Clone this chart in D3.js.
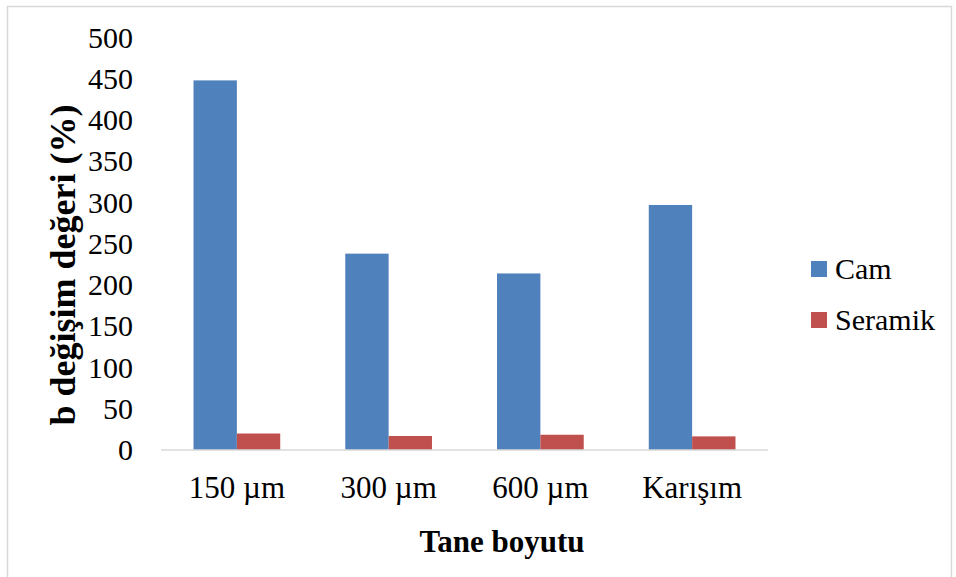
<!DOCTYPE html>
<html>
<head>
<meta charset="utf-8">
<script src="https://cdn.jsdelivr.net/npm/d3@7"></script>
<style>
  body { margin: 0; background: #fff; }
  svg { display: block; font-family: "Liberation Serif", "Times New Roman", serif; }
</style>
</head>
<body>
<svg id="chart" width="956" height="577"></svg>
<script>
// data
var categories = ["150 µm", "300 µm", "600 µm", "Karışım"];
var seriesNames = ["Cam", "Seramik"];
var camValues = [448, 238, 214, 297];
var seramikValues = [20, 17, 18.5, 16.5];
var yTicks = [0, 50, 100, 150, 200, 250, 300, 350, 400, 450, 500];
var colors = ["#4F81BD", "#C0504D"];

var svg = d3.select("#chart");
var plotLeft = 161, plotRight = 768, plotTop = 37.5, plotBottom = 450;

// outer frame
svg.append("rect").attr("x", 7.5).attr("y", 6.5).attr("width", 944).attr("height", 590)
	.attr("fill", "none").attr("stroke", "#d9d9d9").attr("stroke-width", 1.5);

var x0 = d3.scaleBand().domain(categories).range([plotLeft, plotRight])
	.paddingInner(1.5 / 3.5).paddingOuter(0.75 / 3.5);
var x1 = d3.scaleBand().domain(seriesNames).range([0, x0.bandwidth()]);
var y = d3.scaleLinear().domain([0, 500]).range([plotBottom, plotTop]);

var rows = categories.map(function(c, i){ return {cat: c, vals: [camValues[i], seramikValues[i]]}; });

// bars
var groups = svg.append("g").selectAll("g").data(rows).enter().append("g")
	.attr("transform", function(d){ return "translate(" + x0(d.cat) + ",0)"; });
groups.selectAll("rect").data(function(d){
		return d.vals.map(function(v, j){ return {s: seriesNames[j], v: v, c: colors[j]}; });
	}).enter().append("rect")
	.attr("x", function(d){ return x1(d.s); })
	.attr("width", x1.bandwidth())
	.attr("y", function(d){ return y(d.v); })
	.attr("height", function(d){ return plotBottom - y(d.v); })
	.attr("fill", function(d){ return d.c; });

// y axis (labels only)
var yAxis = d3.axisLeft(y).tickValues(yTicks).tickSize(0).tickPadding(0);
var yg = svg.append("g").attr("transform", "translate(133,0)").call(yAxis);
yg.select(".domain").remove();
yg.selectAll("text").attr("font-size", 30).attr("fill", "#000")
	.attr("font-family", "Liberation Serif");

// x axis
var xAxis = d3.axisBottom(x0).tickSize(0).tickPadding(0);
var xg = svg.append("g").attr("transform", "translate(0," + plotBottom + ")").call(xAxis);
xg.select(".domain").attr("stroke", "#d9d9d9").attr("stroke-width", 1.5)
	.attr("d", "M" + plotLeft + ",0H" + plotRight);
xg.selectAll("text").attr("font-size", 31).attr("fill", "#000")
	.attr("font-family", "Liberation Serif").attr("dy", null).attr("y", 48);

// axis titles
svg.append("text").attr("x", 502).attr("y", 552).attr("text-anchor", "middle")
	.attr("font-size", 31).attr("font-weight", "bold").text("Tane boyutu");
svg.append("text").attr("transform", "translate(75,265)rotate(-90)").attr("text-anchor", "middle")
	.attr("font-size", 36).attr("font-weight", "bold").text("b değişim değeri (%)");

// legend
var legend = svg.append("g").selectAll("g").data(seriesNames).enter().append("g")
	.attr("transform", function(d, i){ return "translate(811," + (261 + i * 51) + ")"; });
legend.append("rect").attr("width", 16).attr("height", 16)
	.attr("fill", function(d, i){ return colors[i]; });
legend.append("text").attr("x", 24).attr("y", 18).attr("font-size", 30).text(function(d){ return d; });
</script>
</body>
</html>
